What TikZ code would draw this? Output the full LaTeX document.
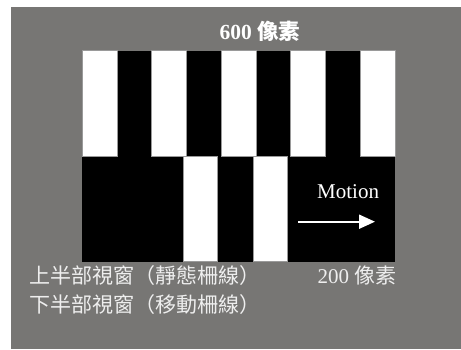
\documentclass[tikz,border=0pt]{standalone}
\usepackage{fontspec}
\setmainfont{Liberation Serif}
\newfontfamily\cjk{Noto Sans CJK TC}
\usetikzlibrary{arrows.meta}
\definecolor{bggray}{HTML}{777674}
\definecolor{edgegray}{HTML}{9A9A9A}
\definecolor{softwhite}{HTML}{EEEEEE}
\tikzset{
  barw/.style={fill=white, draw=edgegray, line width=0.6pt},
  lbl/.style={inner sep=0pt, anchor=base west, font=\fontsize{21}{25}\selectfont},
}
\begin{document}
\begin{tikzpicture}[x=1pt,y=-1pt]
\useasboundingbox (0,0) rectangle (461,349);
\fill[white] (0,0) rectangle (461,349);
\fill[bggray] (11,6.7) rectangle (461,349);
% grating area
\fill[black] (82.3,50.5) rectangle (395,261.7);
\foreach \k in {0,2,4,6,8} {
  \draw[barw] ({82.3+\k*34.74},50.5) rectangle ({82.3+(\k+1)*34.74},156.3);
}
\draw[barw] (183.3,156.3) rectangle (217.7,261.7);
\draw[barw] (253,156.3) rectangle (287.3,261.7);
% labels
\node[lbl, text=white, font=\fontsize{21.5}{25}\selectfont\bfseries] (top) at (219.5,39) {600 {\cjk\bfseries 像素}};
\node[lbl, text=white, font=\fontsize{21}{25}\selectfont] (motion) at (317,198.3) {Motion};
\coordinate (a1) at (298.3,221.7);
\coordinate (a2) at (375,221.7);
\draw[white, line width=2pt, -{Triangle[length=16pt,width=14pt]}] (a1) -- (a2);
\node[lbl, text=softwhite] (l1) at (29.5,283.5) {\cjk 上半部視窗（靜態柵線）};
\node[lbl, text=softwhite] (l2) at (29.5,312) {\cjk 下半部視窗（移動柵線）};
\node[lbl, text=softwhite] (px) at (317.5,283.5) {200 {\cjk 像素}};
\end{tikzpicture}
\end{document}
